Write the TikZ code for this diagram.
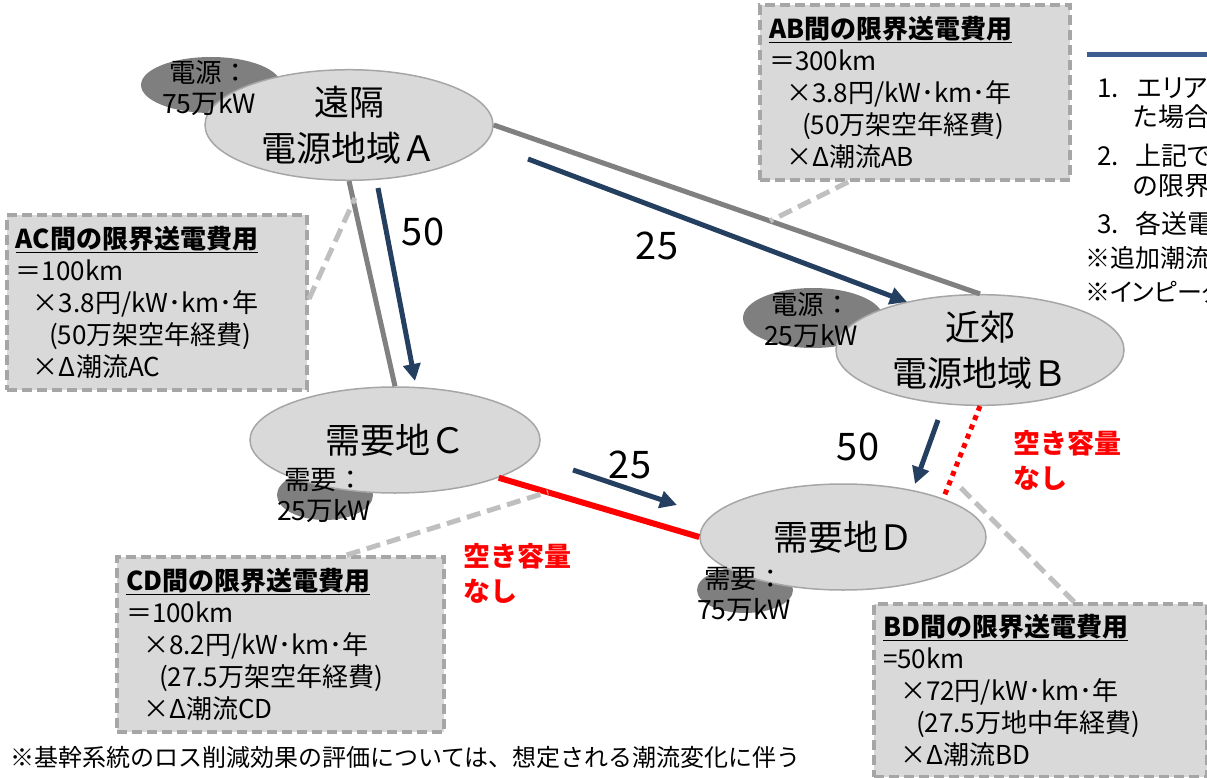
\documentclass[tikz,border=0pt]{standalone}
\usepackage{fontspec}
\setmainfont{Noto Sans CJK JP}
\usetikzlibrary{shapes.geometric,arrows.meta,calc}
\definecolor{navy}{HTML}{243F60}
\definecolor{lgray}{HTML}{D9D9D9}
\definecolor{egray}{HTML}{A6A6A6}
\definecolor{dgray}{HTML}{7F7F7F}
\definecolor{lineg}{HTML}{808080}
\definecolor{callg}{HTML}{BFBFBF}
\definecolor{boxb}{HTML}{A6A6A6}
\definecolor{blu}{HTML}{3B5E8E}
\definecolor{redc}{HTML}{FF0000}
\newcommand{\pd}{\addfontfeature{RawFeature=+palt}}
\begin{document}
\begin{tikzpicture}[x=1pt,y=-1pt,
 region/.style={ellipse, draw=egray, line width=1.5pt, fill=lgray, inner sep=0pt, align=center, font=\fontsize{35}{46}\selectfont},
 srcell/.style={ellipse, fill=dgray, inner sep=0pt},
 srctext/.style={align=center, font=\fontsize{26.5}{31}\selectfont, inner sep=0pt},
 infobox/.style={rectangle, draw=boxb, fill=lgray, line width=4pt, dash pattern=on 10pt off 5pt, align=left, anchor=north west, inner xsep=9pt, inner ysep=0pt, font=\fontsize{26}{32}\selectfont},
 wire/.style={draw=lineg, line width=5pt},
 flow/.style={draw=navy, line width=5pt, -{Triangle[length=17pt,width=17pt]}},
 call/.style={draw=callg, line width=5pt, dash pattern=on 14pt off 7pt},
 num/.style={font=\fontsize{38}{38}\selectfont, inner sep=0pt},
 redlbl/.style={text=redc, font=\bfseries\fontsize{27}{35}\selectfont, align=left, inner sep=0pt, anchor=west},
 side/.style={anchor=west, inner sep=0pt, font=\fontsize{26}{26}\selectfont\pd},
 sidesm/.style={anchor=west, inner sep=0pt, font=\fontsize{25}{25}\selectfont\pd},
 ]
\useasboundingbox (0,0) rectangle (1207,778);
\clip (0,0) rectangle (1207,778);

% source / demand ellipses (behind)
\node[srcell, minimum width=140pt, minimum height=56pt] (sA) at (211,85) {};
\node[srcell, minimum width=140pt, minimum height=60pt] (sB) at (813,318) {};
\node[srcell, minimum width=96pt, minimum height=50pt] (sC) at (325,495) {};
\node[srcell, minimum width=96pt, minimum height=46pt] (sD) at (745,590) {};

% regions
\node[region, minimum width=288pt, minimum height=100pt] (A) at (349,125) {遠隔\\電源地域Ａ};
\node[region, minimum width=288pt, minimum height=104pt] (B) at (980,350) {近郊\\電源地域Ｂ};
\node[region, minimum width=290pt, minimum height=106pt] (C) at (395,440) {需要地Ｃ};
\node[region, minimum width=286pt, minimum height=106pt] (D) at (843,537) {需要地Ｄ};

\node[srctext] (tA) at (209,88) {電源：\\75万kW};
\node[srctext] (tB) at (811,320) {電源：\\25万kW};
\node[srctext] (tC) at (324,495) {需要：\\25万kW};
\node[srctext] (tD) at (744,594) {需要：\\75万kW};

% lines
\draw[wire] (A.east) -- (B.north);
\draw[wire] (A.south) -- (C.north);
\draw[draw=redc, line width=6pt] (C.-20) -- (D.west);
\draw[draw=redc, line width=5pt, dash pattern=on 5pt off 5pt] (B.south) -- (D.21);

% callout ends
\coordinate (cAB) at (770,221);
\coordinate (cAC) at (355,198);
\coordinate (cCD) at (548,492);
\coordinate (cBD) at (958,485);

% boxes
\node[infobox, minimum width=310pt, minimum height=175pt, text width=292pt] (ABbox) at (758,3) {\underline{\textbf{AB間の限界送電費用}}\\＝300km\\\hspace*{17pt}×3.8円/kW･km･年\\\hspace*{33pt}(50万架空年経費)\\\hspace*{17pt}×Δ潮流AB};
\node[infobox, minimum width=300pt, minimum height=175pt, text width=282pt] (ACbox) at (5,213) {\underline{\textbf{AC間の限界送電費用}}\\＝100km\\\hspace*{17pt}×3.8円/kW･km･年\\\hspace*{33pt}(50万架空年経費)\\\hspace*{17pt}×Δ潮流AC};
\node[infobox, minimum width=327pt, minimum height=175pt, text width=309pt] (CDbox) at (115,555) {\underline{\textbf{CD間の限界送電費用}}\\＝100km\\\hspace*{17pt}×8.2円/kW･km･年\\\hspace*{33pt}(27.5万架空年経費)\\\hspace*{17pt}×Δ潮流CD};
\node[infobox, minimum width=333pt, minimum height=173pt, text width=315pt] (BDbox) at (872,602) {\underline{\textbf{BD間の限界送電費用}}\\=50km\\\hspace*{17pt}×72円/kW･km･年\\\hspace*{33pt}(27.5万地中年経費)\\\hspace*{17pt}×Δ潮流BD};

\draw[call] ($(ABbox.south west)!0.287!(ABbox.south east)$) -- (cAB);
\draw[call] ($(ACbox.north east)!0.48!(ACbox.south east)$) -- (cAC);
\draw[call] ($(CDbox.north west)!0.70!(CDbox.north east)$) -- (cCD);
\draw[call] ($(BDbox.north west)!0.60!(BDbox.north east)$) -- (cBD);

% flows
\coordinate (fAC1) at (378,188); \coordinate (fAC2) at (415,381);
\coordinate (fAB1) at (528,159); \coordinate (fAB2) at (907,302);
\coordinate (fCD1) at (573,470); \coordinate (fCD2) at (677,505);
\coordinate (fBD1) at (938,420); \coordinate (fBD2) at (915,484);
\draw[flow] (fAC1) -- (fAC2);
\draw[flow] (fAB1) -- (fAB2);
\draw[flow] (fCD1) -- (fCD2);
\draw[flow] (fBD1) -- (fBD2);

\node[num] (n1) at (423,232) {50};
\node[num] (n2) at (657,246) {25};
\node[num] (n3) at (630,465) {25};
\node[num] (n4) at (858,447) {50};

\node[redlbl] (r1) at (1013,460) {空き容量\\なし};
\node[redlbl] (r2) at (463,573) {空き容量\\なし};

% right side text (cut off at the picture's edge, as in the reference)
\coordinate (bl1) at (1087,55); \coordinate (bl2) at (1207,55);
\draw[draw=blu, line width=5pt] (bl1) -- (bl2);
\node[side] (s1) at (1097,88) {\makebox[40pt][l]{1.}エリア需};
\node[side] (s2) at (1133,117) {た場合};
\node[side] (s3) at (1097,156) {\makebox[38pt][l]{2.}上記で};
\node[side] (s4) at (1133,186) {の限界};
\node[side] (s5) at (1097,224) {\makebox[38pt][l]{3.}各送電};
\node[sidesm] (s6) at (1085,258) {※追加潮流};
\node[sidesm] (s7) at (1085,292) {※インピーダ};

\node[anchor=west, inner sep=0pt, font=\fontsize{24}{24}\selectfont] (foot) at (10,757) {※基幹系統のロス削減効果の評価については、想定される潮流変化に伴う};
\end{tikzpicture}
\end{document}
